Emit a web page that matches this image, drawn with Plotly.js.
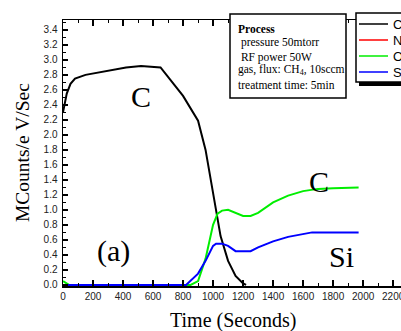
<!DOCTYPE html>
<html><head><meta charset="utf-8">
<script src="https://cdn.plot.ly/plotly-3.0.1.min.js"></script>
<style>html,body{margin:0;padding:0;overflow:hidden;background:#fff;width:401px;height:331px}#chart{width:440px;height:331px}</style>
</head><body><div id="chart"></div><script>
// ---- data ----
const timeC   = [0, 25, 50, 80, 150, 300, 420, 520, 650, 800, 900, 950, 1000, 1050, 1100, 1150, 1200, 1220];
const countsC = [2.30, 2.55, 2.68, 2.75, 2.80, 2.86, 2.90, 2.92, 2.90, 2.52, 2.19, 1.80, 1.22, 0.65, 0.32, 0.12, 0.02, 0.0];
const timeO   = [0, 40, 850, 900, 950, 1000, 1030, 1060, 1100, 1150, 1200, 1250, 1300, 1400, 1500, 1600, 1700, 1800, 1970];
const countsO = [0.05, 0, 0, 0.05, 0.35, 0.80, 0.95, 0.99, 1.00, 0.96, 0.92, 0.92, 0.96, 1.10, 1.19, 1.25, 1.28, 1.29, 1.30];
const timeSi  = [0, 820, 900, 950, 1000, 1020, 1060, 1100, 1150, 1250, 1300, 1400, 1500, 1600, 1660, 1970];
const countsSi= [0, 0, 0.15, 0.32, 0.52, 0.55, 0.55, 0.52, 0.45, 0.45, 0.50, 0.58, 0.64, 0.68, 0.70, 0.70];
const legendNames  = ['C', 'N', 'O', 'Si'];
const legendColors = ['#000000', '#ff0000', '#00ee00', '#0000ff'];
const processLines = ['<b>Process</b>', '\u00a0pressure 50mtorr', '\u00a0RF power 50W', 'gas, flux: CH<sub>4</sub>, 10sccm', 'treatment time: 5min'];
const xTitle = 'Time (Seconds)';
const yTitle = 'MCounts/e V/Sec';

// ---- layout geometry ----
const W = 440, H = 331, L = 63, R = 17, T = 20, B = 45;
const PW = W - L - R, PH = H - T - B;
const px = v => (v - L) / PW;          // pixel x -> paper
const py = v => (H - B - v) / PH;      // pixel y -> paper
const serif = 'Liberation Serif, Times New Roman, serif';
const sans = 'Liberation Sans, Arial, sans-serif';

const traces = [
  {x: timeC, y: countsC, mode: 'lines', line: {color: legendColors[0], width: 2}, name: legendNames[0]},
  {x: timeO, y: countsO, mode: 'lines', line: {color: legendColors[2], width: 2}, name: legendNames[2]},
  {x: timeSi, y: countsSi, mode: 'lines', line: {color: legendColors[3], width: 2}, name: legendNames[3]}
];

const shapes = [];
const annotations = [];
// process box
shapes.push({type: 'rect', xref: 'paper', yref: 'paper', x0: px(230), x1: px(346), y0: py(98), y1: py(14),
  fillcolor: '#fff', line: {color: '#000', width: 1.5}});
const procY = [29, 43, 57, 70, 85];
processLines.forEach((t, i) => annotations.push({xref: 'paper', yref: 'paper', x: px(236), y: py(procY[i]),
  xanchor: 'left', yanchor: 'middle', text: t, showarrow: false, font: {family: serif, size: 11.5, color: '#000'}}));
// legend (shadow + box)
shapes.push({type: 'rect', xref: 'paper', yref: 'paper', x0: px(359), x1: px(450), y0: py(86), y1: py(82),
  fillcolor: '#000', line: {width: 0}});
shapes.push({type: 'rect', xref: 'paper', yref: 'paper', x0: px(356), x1: px(450), y0: py(82), y1: py(13),
  fillcolor: '#fff', line: {color: '#000', width: 1.5}});
const legY = [24, 40, 56, 72];
legendNames.forEach((n, i) => {
  shapes.push({type: 'line', xref: 'paper', yref: 'paper', x0: px(359), x1: px(388), y0: py(legY[i]), y1: py(legY[i]),
    line: {color: legendColors[i], width: 1.5}});
  annotations.push({xref: 'paper', yref: 'paper', x: px(391), y: py(legY[i]), xanchor: 'left', yanchor: 'middle',
    text: n, showarrow: false, font: {family: sans, size: 13, color: '#000'}});
});
// curve labels
[['C', 141, 96], ['(a)', 113, 251], ['C', 319, 181], ['Si', 341, 256]].forEach(a =>
  annotations.push({xref: 'paper', yref: 'paper', x: px(a[1]), y: py(a[2]), xanchor: 'center', yanchor: 'middle',
    text: a[0], showarrow: false, font: {family: serif, size: 30, color: '#000'}}));
// axis titles
annotations.push({xref: 'paper', yref: 'paper', x: px(233), y: py(320), xanchor: 'center', yanchor: 'middle',
  text: xTitle, showarrow: false, font: {family: serif, size: 20, color: '#000', weight: 'normal'}});
annotations.push({xref: 'paper', yref: 'paper', x: px(22), y: py(153), xanchor: 'center', yanchor: 'middle',
  text: yTitle, textangle: -90, showarrow: false, font: {family: serif, size: 19.5, color: '#000', weight: 'normal'}});

const layout = {
  width: W, height: H, margin: {l: L, r: R, t: T, b: B, pad: 0},
  paper_bgcolor: '#fff', plot_bgcolor: '#fff', showlegend: false,
  xaxis: {range: [0, 2399], dtick: 200, tick0: 0, ticks: 'inside', ticklen: 6, tickwidth: 1.5, tickcolor: '#000',
    showline: true, linecolor: '#000', linewidth: 1.5, mirror: 'ticks', showgrid: false, zeroline: false,
    tickfont: {family: sans, size: 10, color: '#222'},
    minor: {dtick: 100, ticks: 'inside', ticklen: 3, tickwidth: 1, tickcolor: '#000', showgrid: false}},
  yaxis: {range: [-0.015, 3.532], dtick: 0.2, tick0: 0, tickformat: '.1f', ticks: 'inside', ticklen: 5, tickwidth: 1.5,
    tickcolor: '#000', showline: true, linecolor: '#000', linewidth: 1.5, mirror: 'ticks', showgrid: false, zeroline: false,
    tickfont: {family: sans, size: 10, color: '#222'}, ticklabelstandoff: 2,
    minor: {dtick: 0.1, ticks: 'inside', ticklen: 3, tickwidth: 1, tickcolor: '#000', showgrid: false}},
  shapes: shapes, annotations: annotations
};
Plotly.newPlot('chart', traces, layout, {staticPlot: true, displayModeBar: false});
</script></body></html>
